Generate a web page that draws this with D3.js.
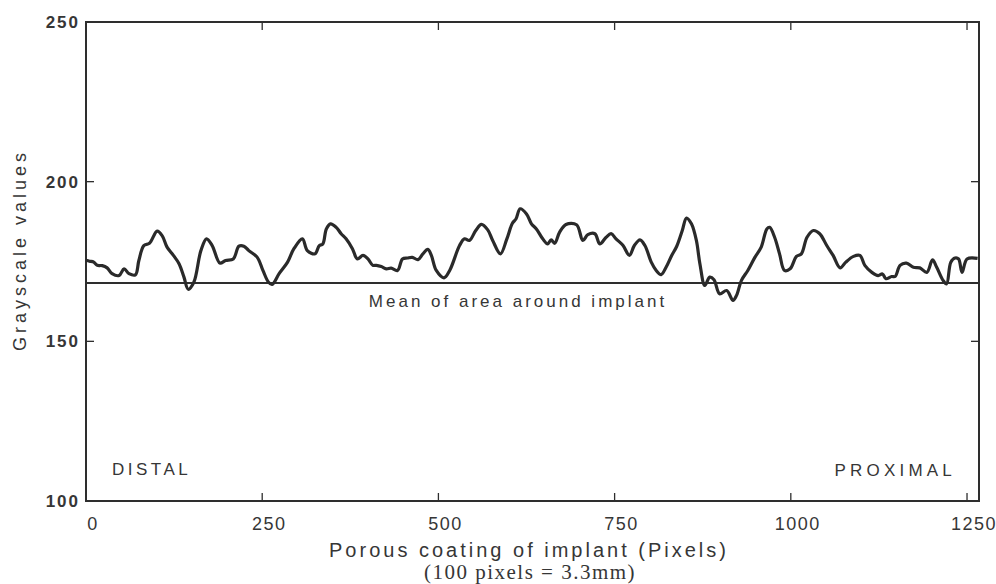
<!DOCTYPE html>
<html>
<head>
<meta charset="utf-8">
<script src="https://cdn.jsdelivr.net/npm/d3@7/dist/d3.min.js"></script>
<style>
  html, body { margin: 0; padding: 0; background: #fff; }
  svg { display: block; }
  .lbl { font-family: "Liberation Sans", Arial, sans-serif; fill: #363636; }
  .serif { font-family: "Liberation Serif", "Times New Roman", serif; fill: #363636; }
</style>
</head>
<body>
<svg id="chart" width="996" height="584"></svg>
<script>
// Grayscale profile along the porous coating (pixel position, grey value)
const pixelPos = [0, 5, 11, 16, 23, 30, 37, 47, 54, 61, 70, 75, 82, 90, 101, 108, 115, 124, 132, 139,
  145, 153, 163, 171, 179, 190, 198, 209, 217, 224, 231, 243, 251, 259, 264, 274, 286, 295, 307, 314,
  325, 331, 336, 341, 347, 355, 362, 369, 378, 385, 393, 400, 407, 412, 419, 426, 433, 442, 449, 456,
  463, 471, 478, 485, 490, 497, 508, 516, 530, 537, 544, 553, 561, 570, 577, 588, 597, 605, 610, 616,
  625, 632, 639, 648, 655, 660, 665, 672, 681, 696, 705, 712, 722, 729, 738, 745, 752, 762, 771, 778,
  786, 793, 802, 809, 816, 823, 831, 838, 846, 852, 859, 866, 871, 878, 885, 891, 899, 909, 918, 923,
  930, 939, 949, 958, 966, 970, 977, 984, 991, 999, 1008, 1015, 1023, 1032, 1041, 1051, 1060, 1070, 1078, 1089,
  1098, 1105, 1115, 1124, 1130, 1135, 1143, 1148, 1155, 1164, 1174, 1183, 1193, 1201, 1207, 1216, 1221, 1227, 1233, 1238,
  1243, 1250, 1265];
const grayValue = [175.4, 175.1, 174.8, 173.8, 173.7, 173.0, 171.2, 170.6, 172.7, 171.2, 170.8, 175.3, 180.0, 180.7, 184.5, 183.1, 179.5, 176.9, 174.3, 170.1,
  166.3, 168.5, 178.4, 182.1, 180.0, 174.5, 175.3, 175.8, 179.8, 179.8, 178.4, 176.3, 172.2, 168.5, 167.8, 171.2, 174.8, 179.0, 182.1, 178.4,
  177.4, 180.0, 180.5, 185.2, 186.8, 185.7, 183.7, 182.1, 179.0, 175.8, 176.9, 175.8, 173.8, 173.8, 173.4, 172.7, 172.9, 172.2, 175.8, 176.1,
  176.3, 175.6, 177.4, 178.8, 176.9, 172.2, 169.9, 172.2, 180.0, 182.1, 181.6, 184.7, 186.6, 184.9, 181.6, 177.4, 182.0, 187.0, 188.3, 191.5,
  189.9, 186.8, 185.2, 182.1, 180.5, 181.8, 180.7, 184.2, 186.6, 186.5, 181.6, 183.4, 183.7, 180.5, 182.6, 183.7, 182.1, 180.0, 176.9, 180.0,
  181.8, 180.0, 174.8, 172.2, 170.9, 173.2, 176.9, 179.7, 184.7, 188.6, 186.8, 181.6, 174.3, 167.5, 170.1, 169.3, 164.9, 165.9, 162.8, 164.4,
  169.1, 172.2, 176.3, 179.5, 185.2, 185.7, 182.6, 177.4, 172.2, 172.7, 176.6, 177.4, 182.6, 184.7, 183.7, 180.0, 176.9, 173.0, 174.8, 176.6,
  176.9, 173.8, 171.6, 170.6, 171.1, 169.6, 170.3, 170.3, 173.8, 174.5, 173.2, 173.0, 171.6, 175.5, 173.2, 169.1, 168.0, 174.8, 176.1, 175.8,
  171.6, 175.8, 176.0];

// Mean grey level of the region surrounding the implant
const meanValue = 168.3;

const xTicks = [0, 250, 500, 750, 1000, 1250];
const yTicks = [100, 150, 200, 250];

const margin = { left: 86, right: 17, top: 22, bottom: 83 };
const W = 996, H = 584;
const svg = d3.select("#chart");

const x = d3.scaleLinear().domain([0, 1267]).range([margin.left, W - margin.right]);
const y = d3.scaleLinear().domain([100, 250]).range([H - margin.bottom, margin.top]);

const ink = "#2e2e2e";
const tickLen = 8;

// Tick marks on all four sides, pointing inward
const gx = svg.append("g");
xTicks.forEach(t => {
  gx.append("line").attr("x1", x(t)).attr("x2", x(t))
    .attr("y1", y(100)).attr("y2", y(100) - tickLen)
    .attr("stroke", ink).attr("stroke-width", 1.3);
  gx.append("line").attr("x1", x(t)).attr("x2", x(t))
    .attr("y1", y(250)).attr("y2", y(250) + tickLen)
    .attr("stroke", ink).attr("stroke-width", 1.3);
});
yTicks.forEach(t => {
  gx.append("line").attr("x1", x.range()[0]).attr("x2", x.range()[0] + tickLen)
    .attr("y1", y(t)).attr("y2", y(t))
    .attr("stroke", ink).attr("stroke-width", 1.3);
  gx.append("line").attr("x1", x.range()[1]).attr("x2", x.range()[1] - tickLen)
    .attr("y1", y(t)).attr("y2", y(t))
    .attr("stroke", ink).attr("stroke-width", 1.3);
});

// Plot frame
svg.append("rect")
  .attr("x", x.range()[0]).attr("y", y(250))
  .attr("width", x.range()[1] - x.range()[0])
  .attr("height", y(100) - y(250))
  .attr("fill", "none").attr("stroke", ink).attr("stroke-width", 2);

// Tick labels
svg.append("g").selectAll("text").data(yTicks).join("text")
  .attr("class", "lbl")
  .attr("x", 80).attr("y", d => y(d) + 6)
  .attr("text-anchor", "end")
  .attr("font-size", 17).attr("font-weight", "bold")
  .attr("letter-spacing", 2)
  .text(d => d);

svg.append("g").selectAll("text").data(xTicks).join("text")
  .attr("class", "lbl")
  .attr("x", d => x(d) + 7).attr("y", 530)
  .attr("text-anchor", "middle")
  .attr("font-size", 18)
  .attr("letter-spacing", 1.5)
  .text(d => d);

// Axis titles
svg.append("text").attr("class", "lbl")
  .attr("transform", "translate(26, 250) rotate(-90)")
  .attr("text-anchor", "middle")
  .attr("font-size", 18).attr("letter-spacing", 4)
  .text("Grayscale values");

svg.append("text").attr("class", "lbl")
  .attr("x", 529).attr("y", 557)
  .attr("text-anchor", "middle")
  .attr("font-size", 20).attr("letter-spacing", 3)
  .text("Porous coating of implant (Pixels)");

svg.append("text").attr("class", "serif")
  .attr("x", 530).attr("y", 579)
  .attr("text-anchor", "middle")
  .attr("font-size", 21).attr("letter-spacing", 1.5)
  .text("(100 pixels = 3.3mm)");

// Mean reference line
svg.append("line")
  .attr("x1", x.range()[0]).attr("x2", x.range()[1])
  .attr("y1", y(meanValue)).attr("y2", y(meanValue))
  .attr("stroke", ink).attr("stroke-width", 2);

svg.append("text").attr("class", "lbl")
  .attr("x", 518).attr("y", y(meanValue) + 24)
  .attr("text-anchor", "middle")
  .attr("font-size", 17).attr("letter-spacing", 3)
  .text("Mean of area around implant");

// Region labels
svg.append("text").attr("class", "lbl")
  .attr("x", 112).attr("y", 475)
  .attr("font-size", 17).attr("letter-spacing", 3.5)
  .text("DISTAL");
svg.append("text").attr("class", "lbl")
  .attr("x", 956).attr("y", 476)
  .attr("text-anchor", "end")
  .attr("font-size", 17).attr("letter-spacing", 4.2)
  .text("PROXIMAL");

// Grayscale profile
const pts = pixelPos.map((p, i) => [p, grayValue[i]]);
svg.append("path")
  .datum(pts)
  .attr("fill", "none")
  .attr("stroke", "#2a2a2a")
  .attr("stroke-width", 3.2)
  .attr("stroke-linejoin", "round")
  .attr("d", d3.line().x(d => x(d[0])).y(d => y(d[1])).curve(d3.curveCatmullRom.alpha(0.5)));
</script>
</body>
</html>
